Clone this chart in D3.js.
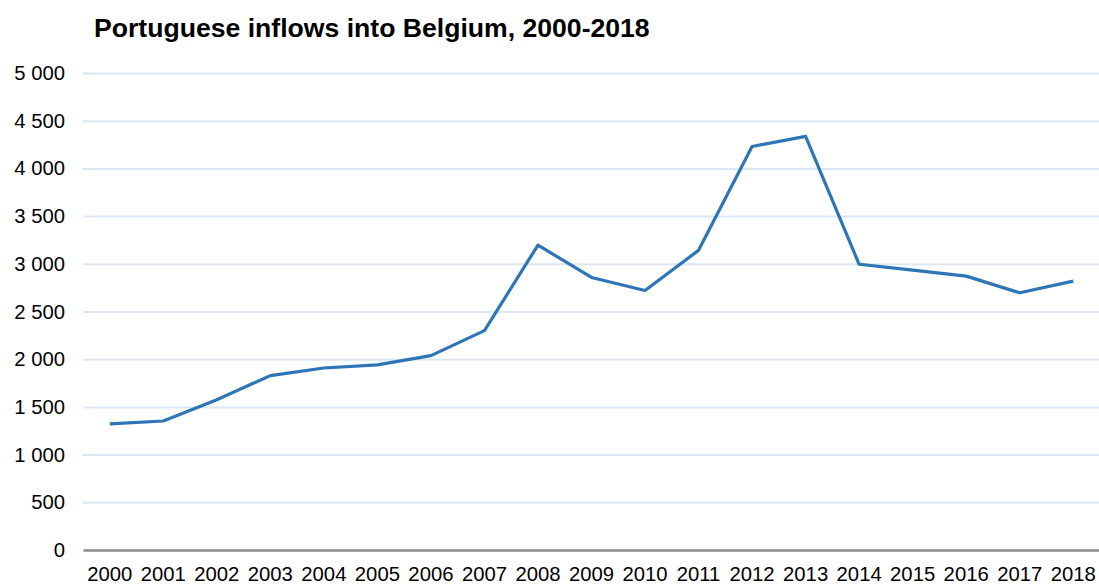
<!DOCTYPE html>
<html>
<head>
  <title>Portuguese inflows into Belgium</title>
  <script src="https://d3js.org/d3.v7.min.js"></script>
  <style>
    html, body {
      margin: 0;
      padding: 0;
      background: #fff;
      overflow: hidden;
    }
    svg {
      font-family: "Liberation Sans", Arial, sans-serif;
    }
  </style>
</head>
<body>
  <svg></svg>
  <script>
    var years = ["2000","2001","2002","2003","2004","2005","2006","2007","2008","2009",
                 "2010","2011","2012","2013","2014","2015","2016","2017","2018"];
    var inflows = [1323, 1352, 1575, 1828, 1908, 1940, 2038, 2300, 3196, 2857,
                   2720, 3141, 4230, 4335, 2995, 2934, 2871, 2696, 2818];
    var yTicks = [0, 500, 1000, 1500, 2000, 2500, 3000, 3500, 4000, 4500, 5000];

    var width = 1099, height = 585;
    var margin = {top: 73, right: -1, bottom: 35, left: 83};

    var svg = d3.select("svg").attr("width", width).attr("height", height);

    var x = d3.scaleBand()
        .domain(years)
        .range([margin.left, width - margin.right]);

    var y = d3.scaleLinear()
        .domain([0, 5000])
        .range([height - margin.bottom, margin.top]);

    // title
    svg.append("text")
        .attr("x", 94)
        .attr("y", 37)
        .attr("font-size", 26.6)
        .attr("font-weight", "bold")
        .attr("fill", "#000")
        .text("Portuguese inflows into Belgium, 2000-2018");

    // gridlines + y labels
    var yAxis = d3.axisLeft(y)
        .tickValues(yTicks)
        .tickSize(-(width - margin.left))
        .tickPadding(18)
        .tickFormat(function(d){ return d3.format(",")(d).replace(/,/g, " "); });

    var gy = svg.append("g")
        .attr("transform", "translate(" + margin.left + ",0)")
        .call(yAxis);
    gy.select(".domain").remove();
    gy.selectAll(".tick line")
        .attr("stroke", "#dce6f2")
        .attr("stroke-width", 2)
        .filter(function(d){ return d === 0; }).remove();
    gy.selectAll(".tick text")
        .attr("font-size", 20.3)
        .attr("fill", "#000");

    // x axis
    var xAxis = d3.axisBottom(x).tickSize(0).tickPadding(17);
    var gx = svg.append("g")
        .attr("transform", "translate(0," + y(0) + ")")
        .call(xAxis);
    gx.select(".domain")
        .attr("stroke", "#898989")
        .attr("stroke-width", 2.5);
    gx.selectAll(".tick text")
        .attr("font-size", 20.3)
        .attr("fill", "#000");

    // line
    var line = d3.line()
        .x(function(d, i){ return x(years[i]) + x.bandwidth() / 2; })
        .y(function(d){ return y(d); });

    svg.append("path")
        .datum(inflows)
        .attr("fill", "none")
        .attr("stroke", "#2e75b6")
        .attr("stroke-width", 3.2)
        .attr("stroke-linejoin", "round")
        .attr("d", line);
  </script>
</body>
</html>
